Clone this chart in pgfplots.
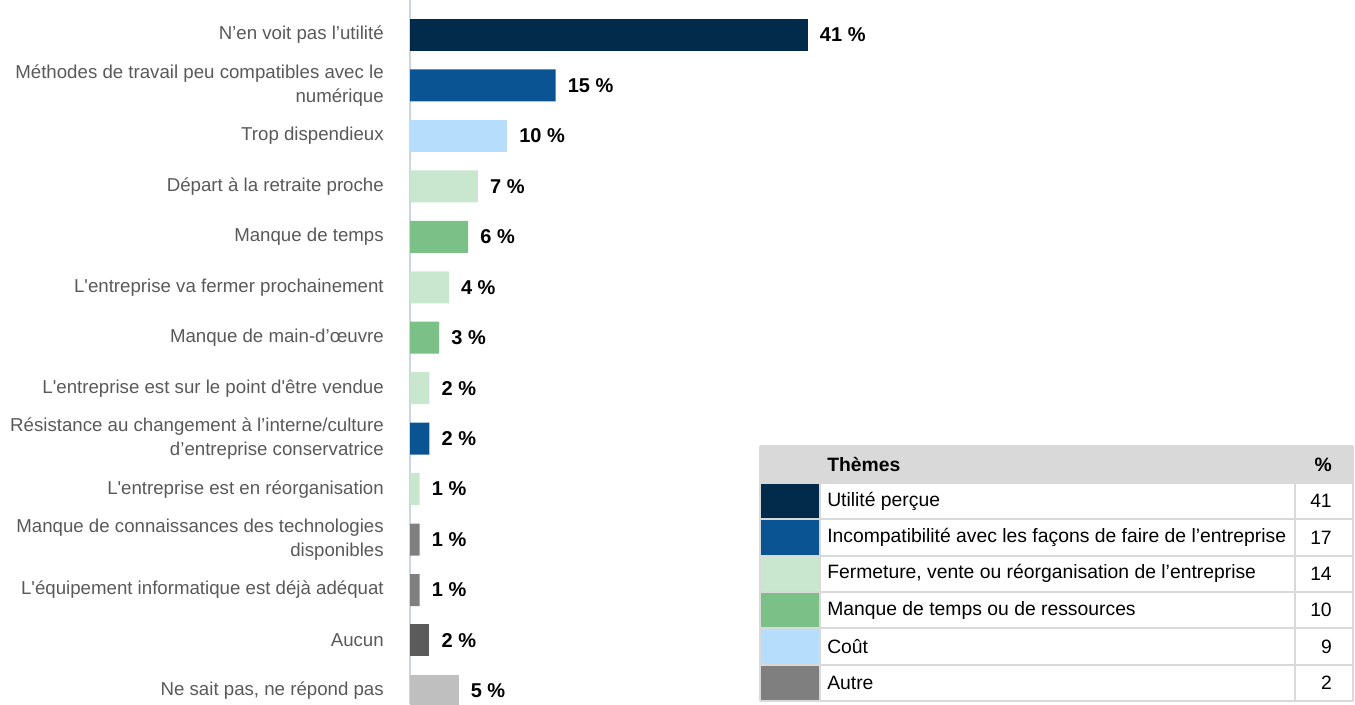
\documentclass[border=0pt]{standalone}
\usepackage{fontspec}
\setmainfont{Liberation Sans}
\usepackage{pgfplots}
\pgfplotsset{compat=1.18}
\definecolor{cNavy}{HTML}{022A4A}
\definecolor{cBlue}{HTML}{0A5494}
\definecolor{cLBlue}{HTML}{B6DEFC}
\definecolor{cLGreen}{HTML}{C9E6CF}
\definecolor{cGreen}{HTML}{7BC086}
\definecolor{cGray}{HTML}{7F7F7F}
\definecolor{cDGray}{HTML}{5B5B5B}
\definecolor{cLGray}{HTML}{BFBFBF}
\definecolor{axisc}{HTML}{CCD5E6}
\definecolor{gridc}{HTML}{D9D9D9}
\definecolor{lbl}{HTML}{595959}
\begin{document}
\begin{tikzpicture}
\begin{axis}[
  at={(307.5pt,0pt)}, anchor=north west,
  scale only axis, width=363.75pt, height=528pt,
  xbar, bar width=24pt, bar shift=0pt,
  xmin=0, xmax=50,
  ymin=-0.694, ymax=13.26, y dir=reverse,
  axis x line=none,
  axis y line*=left,
  y axis line style={-, draw=axisc, line width=1.2pt},
  xtick=\empty,
  ytick={0,...,13},
  yticklabels={
    {N’en voit pas l’utilité},
    {Méthodes de travail peu compatibles avec le\\numérique},
    {Trop dispendieux},
    {Départ à la retraite proche},
    {Manque de temps},
    {L\textquotesingle entreprise va fermer prochainement},
    {Manque de main-d’œuvre},
    {L\textquotesingle entreprise est sur le point d\textquotesingle être vendue},
    {Résistance au changement à l’interne/culture\\d’entreprise conservatrice},
    {L\textquotesingle entreprise est en réorganisation},
    {Manque de connaissances des technologies\\disponibles},
    {L\textquotesingle équipement informatique est déjà adéquat},
    {Aucun},
    {Ne sait pas, ne répond pas}},
  major tick length=0pt,
  yticklabel style={align=right, anchor=east, inner sep=0pt, xshift=-19.5pt,
    text=lbl, font=\fontsize{14}{18}\selectfont},
  point meta=x,
  nodes near coords={\pgfmathprintnumber[assume math mode=true]{\pgfplotspointmeta}~\%},
  every node near coord/.append style={anchor=west, inner sep=0pt, xshift=9pt,
    text=black, font=\fontsize{15}{18}\selectfont\bfseries},
]
\addplot[fill=cNavy, draw=none] coordinates {(41,0)};
\addplot[fill=cBlue, draw=none] coordinates {(15,1) (2,8)};
\addplot[fill=cLBlue, draw=none] coordinates {(10,2)};
\addplot[fill=cLGreen, draw=none] coordinates {(7,3) (4,5) (2,7) (1,9)};
\addplot[fill=cGreen, draw=none] coordinates {(6,4) (3,6)};
\addplot[fill=cGray, draw=none] coordinates {(1,10) (1,11)};
\addplot[fill=cDGray, draw=none] coordinates {(2,12)};
\addplot[fill=cLGray, draw=none] coordinates {(5,13)};
\end{axis}
\begin{scope}[x=0.75pt, y=-0.75pt, font=\fontsize{14.5}{17}\selectfont]
  \fill[gridc] (760,446) rectangle (1353,483);
  \foreach \c [count=\i from 0] in {cNavy,cBlue,cLGreen,cGreen,cLBlue,cGray} {
    \fill[\c] (760,{483+\i*36.33}) rectangle (820,{483+(\i+1)*36.33});
  }
  \foreach \yy in {446,483,519.33,555.66,592,628.33,664.66,701} {
    \draw[gridc, line width=1.5pt] (760,\yy) -- (1353,\yy);
  }
  \foreach \xx in {760,820,1295,1353} {
    \draw[gridc, line width=1.5pt] (\xx,446) -- (\xx,701);
  }
  \node[anchor=west, inner sep=0pt, font=\fontsize{14.5}{17}\selectfont\bfseries] at (827,464.5) {Thèmes};
  \node[anchor=east, inner sep=0pt, font=\fontsize{14.5}{17}\selectfont\bfseries] at (1332,464.5) {\%};
  \foreach \t/\v [count=\i from 0] in {
    {Utilité perçue}/41,
    {Incompatibilité avec les façons de faire de l’entreprise}/17,
    {Fermeture, vente ou réorganisation de l’entreprise}/14,
    {Manque de temps ou de ressources}/10,
    {Coût}/9,
    {Autre}/2} {
    \node[anchor=west, inner sep=0pt] at (827,{501.2+\i*36.33}) {\t};
    \node[anchor=east, inner sep=0pt] at (1332,{501.2+\i*36.33}) {\v};
  }
\end{scope}
\pgfresetboundingbox
\path[use as bounding box] (0,0) rectangle (1016.25pt,-528pt);
\end{tikzpicture}
\end{document}
